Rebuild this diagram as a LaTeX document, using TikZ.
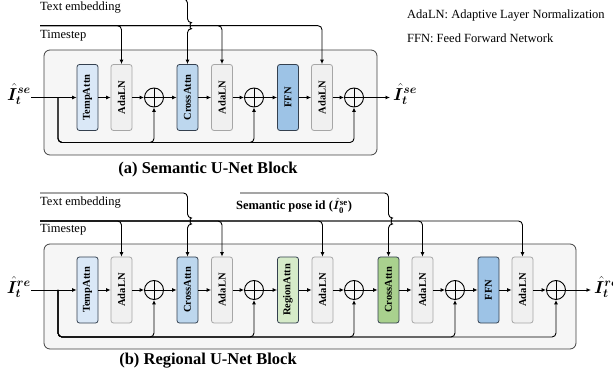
\documentclass[tikz,border=0pt]{standalone}
\usepackage{amsmath}
\usepackage{bm}
\usepackage{fontspec}
\setmainfont{Liberation Serif}
\usetikzlibrary{arrows.meta}

\definecolor{outerfill}{HTML}{F6F6F6}
\definecolor{outerline}{HTML}{404040}
\definecolor{blockline}{HTML}{34404F}
\definecolor{tempfill}{HTML}{DAE8F7}
\definecolor{crossfill}{HTML}{BDD7EE}
\definecolor{ffnfill}{HTML}{9DC3E6}
\definecolor{adafill}{HTML}{F0F0F0}
\definecolor{adaline}{HTML}{A6A6A6}
\definecolor{regionfill}{HTML}{D6EBC9}
\definecolor{greenfill}{HTML}{A9D18E}

\begin{document}
\begin{tikzpicture}[x=1pt,y=-1pt]
	\useasboundingbox (0,0) rectangle (613,379);
	
	\tikzstyle{myblock}=[rectangle,
	rounded corners=2.5pt,
	draw=blockline,
	line width=0.8pt,
	rotate=90,
	minimum width=66pt,
	minimum height=21pt,
	inner sep=0pt,
	font=\fontsize{10.5}{10.5}\selectfont\bfseries
	]
	\tikzstyle{myada}=[myblock,
	draw=adaline,
	fill=adafill
	]
	\tikzstyle{myplus}=[circle,
	draw=black,
	line width=0.9pt,
	minimum size=19pt,
	inner sep=0pt,
	path picture={\draw[line width=0.9pt] (path picture bounding box.north) -- (path picture bounding box.south) (path picture bounding box.west) -- (path picture bounding box.east);}
	]
	\tikzstyle{myarrow}=[-{Latex[length=4.5pt,width=4pt]}, line width=0.9pt]
	\tikzstyle{myline}=[line width=0.9pt, rounded corners=4pt]
	\tikzstyle{mytext}=[anchor=west, inner sep=0pt, font=\fontsize{12.5}{12.5}\selectfont]
	\tikzstyle{mylabel}=[inner sep=0pt, font=\fontsize{17}{17}\selectfont]
	\tikzstyle{mycaption}=[inner sep=0pt, font=\fontsize{16.5}{16.5}\selectfont\bfseries]
	\tikzstyle{myouter}=[draw=outerline, fill=outerfill, line width=0.8pt, rounded corners=6pt]
	
	% legend
	\node[mytext] (leg1) at (407,16) {AdaLN: Adaptive Layer Normalization};
	\node[mytext] (leg2) at (407,38) {FFN: Feed Forward Network};
	
	% (a) semantic block
	\draw[myouter] (44,50) rectangle (377,155);
	
	\coordinate (tea) at (40,-1);
	\coordinate (tsa) at (40,25.7);
	\coordinate (pa0) at (31,97.5);
	\coordinate (sa) at (58,97.5);
	\coordinate (ba) at (58,142.5);
	\coordinate (pa10) at (390,97.5);
	
	\node[mytext] (tea-l) at (40,8) {Text embedding};
	\node[mytext] (tsa-l) at (40,36) {Timestep};
	
	\node[myblock, fill=tempfill] (a1) at (87.5,97.5) {TempAttn};
	\node[myada] (a2) at (121.5,97.5) {AdaLN};
	\node[myplus] (a3) at (154,97.5) {};
	\node[myblock, fill=crossfill] (a4) at (187.5,97.5) {CrossAttn};
	\node[myada] (a5) at (222,97.5) {AdaLN};
	\node[myplus] (a6) at (254,97.5) {};
	\node[myblock, fill=ffnfill] (a7) at (288,97.5) {FFN};
	\node[myada] (a8) at (322,97.5) {AdaLN};
	\node[myplus] (a9) at (354,97.5) {};
	
	\node[mylabel, anchor=east] (ina) at (31,94) {$\bm{\hat{I}_t^{se}}$};
	\node[mylabel, anchor=west] (outa) at (393,94) {$\bm{\hat{I}_t^{se}}$};
	
	\draw[myarrow] (pa0) -- (a1);
	\draw[myarrow] (a1) -- (a2);
	\draw[myarrow] (a2) -- (a3);
	\draw[myarrow] (a3) -- (a4);
	\draw[myarrow] (a4) -- (a5);
	\draw[myarrow] (a5) -- (a6);
	\draw[myarrow] (a6) -- (a7);
	\draw[myarrow] (a7) -- (a8);
	\draw[myarrow] (a8) -- (a9);
	\draw[myarrow] (a9) -- (pa10);
	
	\draw[myline, myarrow] (sa) -- (ba) -| (a3);
	\draw[myline, myarrow] (sa) -- (ba) -| (a6);
	\draw[myline, myarrow] (sa) -- (ba) -| (a9);
	
	\draw[myline, myarrow] (tsa) -| (a2);
	\draw[myline, myarrow] (tsa) -| (a5);
	\draw[myline, myarrow] (tsa) -| (a8);
	\draw[myline, myarrow] (tea) -| (187.5,22.7) arc (-90:90:3) -- (a4);
	
	\node[mycaption] (capa) at (208,170) {(a) Semantic U-Net Block};
	
	% (b) regional block
	\draw[myouter] (44,244) rectangle (576,349);
	
	\coordinate (teb) at (40,193);
	\coordinate (tsb) at (40,221);
	\coordinate (spb) at (240,193);
	\coordinate (pb0) at (31,290);
	\coordinate (sb) at (58,290);
	\coordinate (bb) at (58,337);
	\coordinate (pb16) at (591,290);
	
	\node[mytext] (teb-l) at (40,203) {Text embedding};
	\node[mytext] (tsb-l) at (40,230) {Timestep};
	\node[mytext, anchor=center, font=\fontsize{12.5}{12.5}\selectfont\bfseries] (spb-l) at (294,206) {Semantic pose id ($\bm{\hat{I}}_{\mathbf{0}}^{\mathbf{se}}$)};
	
	\node[myblock, fill=tempfill] (b1) at (87.5,290) {TempAttn};
	\node[myada] (b2) at (121.5,290) {AdaLN};
	\node[myplus] (b3) at (154,290) {};
	\node[myblock, fill=crossfill] (b4) at (187.5,290) {CrossAttn};
	\node[myada] (b5) at (222,290) {AdaLN};
	\node[myplus] (b6) at (254,290) {};
	\node[myblock, fill=regionfill] (b7) at (288,290) {RegionAttn};
	\node[myada] (b8) at (322.5,290) {AdaLN};
	\node[myplus] (b9) at (354,290) {};
	\node[myblock, fill=greenfill] (b10) at (388.5,290) {CrossAttn};
	\node[myada] (b11) at (422.5,290) {AdaLN};
	\node[myplus] (b12) at (455,290) {};
	\node[myblock, fill=ffnfill] (b13) at (488.5,290) {FFN};
	\node[myada] (b14) at (522.5,290) {AdaLN};
	\node[myplus] (b15) at (556,290) {};
	
	\node[mylabel, anchor=east] (inb) at (31,287) {$\bm{\hat{I}_t^{re}}$};
	\node[mylabel, anchor=west] (outb) at (594,287) {$\bm{\hat{I}_t^{re}}$};
	
	\draw[myarrow] (pb0) -- (b1);
	\draw[myarrow] (b1) -- (b2);
	\draw[myarrow] (b2) -- (b3);
	\draw[myarrow] (b3) -- (b4);
	\draw[myarrow] (b4) -- (b5);
	\draw[myarrow] (b5) -- (b6);
	\draw[myarrow] (b6) -- (b7);
	\draw[myarrow] (b7) -- (b8);
	\draw[myarrow] (b8) -- (b9);
	\draw[myarrow] (b9) -- (b10);
	\draw[myarrow] (b10) -- (b11);
	\draw[myarrow] (b11) -- (b12);
	\draw[myarrow] (b12) -- (b13);
	\draw[myarrow] (b13) -- (b14);
	\draw[myarrow] (b14) -- (b15);
	\draw[myarrow] (b15) -- (pb16);
	
	\draw[myline, myarrow] (sb) -- (bb) -| (b3);
	\draw[myline, myarrow] (sb) -- (bb) -| (b6);
	\draw[myline, myarrow] (sb) -- (bb) -| (b9);
	\draw[myline, myarrow] (sb) -- (bb) -| (b12);
	\draw[myline, myarrow] (sb) -- (bb) -| (b15);
	
	\draw[myline, myarrow] (tsb) -| (b2);
	\draw[myline, myarrow] (tsb) -| (b5);
	\draw[myline, myarrow] (tsb) -| (b8);
	\draw[myline, myarrow] (tsb) -| (b11);
	\draw[myline, myarrow] (tsb) -| (b14);
	\draw[myline, myarrow] (teb) -| (187.5,218) arc (-90:90:3) -- (b4);
	\draw[myline, myarrow] (spb) -| (388.5,218) arc (-90:90:3) -- (b10);
	
	\node[mycaption] (capb) at (208,361) {(b) Regional U-Net Block};
\end{tikzpicture}
\end{document}
